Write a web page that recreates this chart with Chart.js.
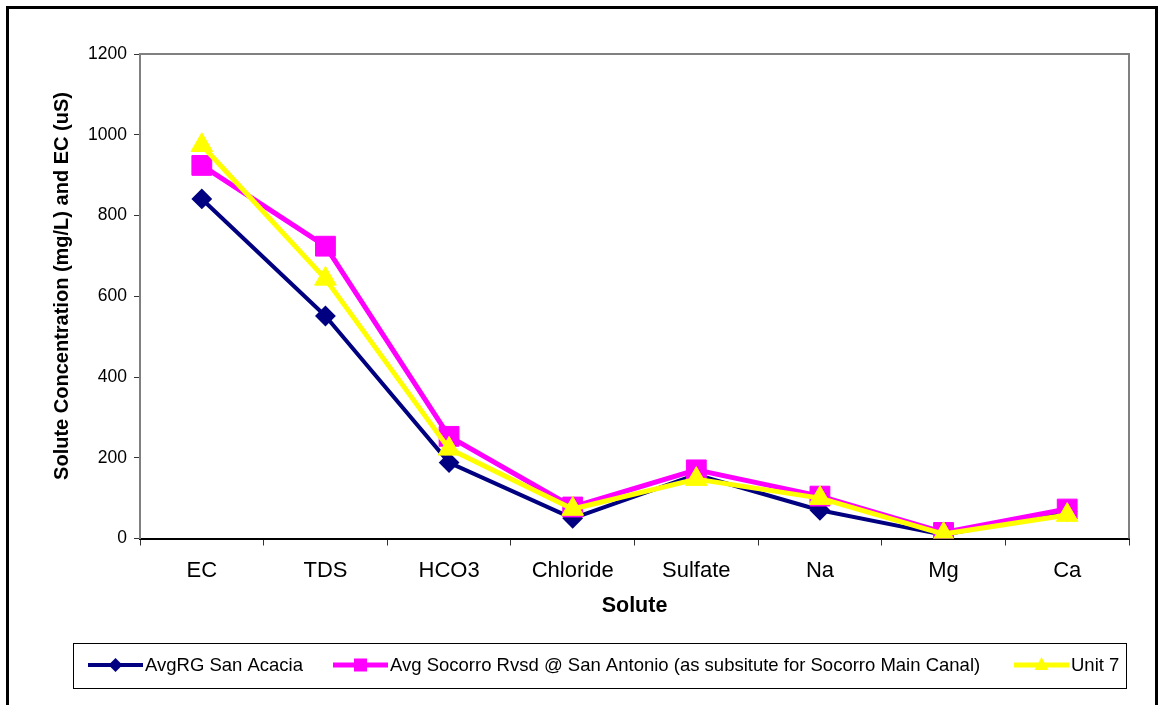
<!DOCTYPE html>
<html>
<head>
<meta charset="utf-8">
<script src="https://cdn.jsdelivr.net/npm/chart.js@4/dist/chart.umd.min.js"></script>
<style>
  html, body { margin: 0; padding: 0; background: #ffffff; }
  #wrap { width: 1160px; height: 705px; position: relative; }
  canvas { display: block; }
</style>
</head>
<body>
<div id="wrap"><canvas id="c" width="1160" height="705"></canvas></div>
<script>
// Solute categories and average concentrations (mg/L; EC in uS)
const categories = ['EC', 'TDS', 'HCO3', 'Chloride', 'Sulfate', 'Na', 'Mg', 'Ca'];
const sanAcacia = [841, 551, 188, 50, 158, 70, 9, 67];
const socorro = [924, 724, 253, 78, 170, 105, 15, 73];
const unit7 = [974, 643, 222, 73, 147, 100, 11, 58];
const seriesNames = [
  'AvgRG San Acacia',
  'Avg Socorro Rvsd @ San Antonio (as subsitute for Socorro Main Canal)',
  'Unit 7'
];
const yTicks = [0, 200, 400, 600, 800, 1000, 1200];
const yTitle = 'Solute Concentration (mg/L) and EC (uS)';

const FONT = '"Liberation Sans", Arial, Helvetica, sans-serif';

// outer frame, plot frame, vertical axis title and legend box
const framePlugin = {
  id: 'frames',
  beforeDraw(chart) {
    const ctx = chart.ctx;
    ctx.save();
    ctx.fillStyle = '#ffffff';
    ctx.fillRect(0, 0, chart.width, chart.height);
    ctx.strokeStyle = '#000000';
    ctx.lineWidth = 3;
    ctx.strokeRect(7.5, 7.5, 1149, 720);
    ctx.restore();
  },
  beforeDatasetsDraw(chart) {
    const {ctx, chartArea: a} = chart;
    ctx.save();
    ctx.strokeStyle = '#808080';
    ctx.lineWidth = 2;
    ctx.beginPath();
    ctx.moveTo(a.left, a.top);
    ctx.lineTo(a.right, a.top);
    ctx.lineTo(a.right, a.bottom);
    ctx.stroke();
    ctx.restore();
  },
  afterDraw(chart) {
    const ctx = chart.ctx;
    ctx.save();
    // vertical axis title
    ctx.translate(62, 286);
    ctx.rotate(-Math.PI / 2);
    ctx.fillStyle = '#000000';
    ctx.font = 'bold 20px ' + FONT;
    ctx.textAlign = 'center';
    ctx.textBaseline = 'middle';
    ctx.fillText(yTitle, 0, 0);
    ctx.restore();

    ctx.save();
    ctx.strokeStyle = '#000000';
    ctx.lineWidth = 1;
    ctx.strokeRect(73.5, 643.5, 1053, 45);
    const starts = [88, 333, 1014];
    const cy = 665;
    chart.data.datasets.forEach((ds, i) => {
      const x0 = starts[i];
      const x1 = x0 + 55;
      ctx.strokeStyle = ds.borderColor;
      ctx.lineWidth = ds.borderWidth;
      ctx.beginPath();
      ctx.moveTo(x0, cy);
      ctx.lineTo(x1, cy);
      ctx.stroke();
      const mx = (x0 + x1) / 2;
      ctx.fillStyle = ds.pointBackgroundColor;
      ctx.beginPath();
      if (ds.pointStyle === 'rectRot') {
        const r = 7;
        ctx.moveTo(mx - r, cy); ctx.lineTo(mx, cy - r); ctx.lineTo(mx + r, cy); ctx.lineTo(mx, cy + r);
      } else if (ds.pointStyle === 'rect') {
        ctx.rect(mx - 6.5, cy - 6.5, 13, 13);
      } else {
        ctx.moveTo(mx, cy - 8); ctx.lineTo(mx + 7, cy + 5); ctx.lineTo(mx - 7, cy + 5);
      }
      ctx.closePath();
      ctx.fill();
      ctx.fillStyle = '#000000';
      ctx.font = '18.5px ' + FONT;
      ctx.textBaseline = 'middle';
      ctx.textAlign = 'left';
      ctx.fillText(ds.label, x1 + 2, cy + 1);
    });
    ctx.restore();
  }
};

new Chart(document.getElementById('c'), {
  type: 'line',
  data: {
    labels: categories,
    datasets: [
      {
        label: seriesNames[0], data: sanAcacia, order: 2,
        borderColor: '#000080', backgroundColor: '#000080',
        pointBackgroundColor: '#000080', pointBorderColor: '#000080',
        borderWidth: 4, pointStyle: 'rectRot', pointRadius: 9, pointBorderWidth: 2
      },
      {
        label: seriesNames[1], data: socorro, order: 1,
        borderColor: '#ff00ff', backgroundColor: '#ff00ff',
        pointBackgroundColor: '#ff00ff', pointBorderColor: '#ff00ff',
        borderWidth: 5, pointStyle: 'rect', pointRadius: 14, pointBorderWidth: 1
      },
      {
        label: seriesNames[2], data: unit7, order: 0,
        borderColor: '#ffff00', backgroundColor: '#ffff00',
        pointBackgroundColor: '#ffff00', pointBorderColor: '#ffff00',
        borderWidth: 5, pointStyle: 'triangle', pointRadius: 12.5, pointBorderWidth: 1
      }
    ]
  },
  options: {
    responsive: false,
    animation: false,
    events: [],
    layout: { padding: { left: 0, right: 31, top: 54, bottom: 0 } },
    elements: { line: { tension: 0, borderCapStyle: 'round', borderJoinStyle: 'round' } },
    plugins: { legend: { display: false }, tooltip: { enabled: false } },
    scales: {
      x: {
        type: 'category',
        offset: true,
        afterFit(s) { s.height = 166.5; },
        grid: { offset: true, drawOnChartArea: false, drawTicks: true, tickLength: 7, color: '#333333', lineWidth: 1 },
        border: { display: true, color: '#000000', width: 2 },
        ticks: { color: '#000000', font: { family: FONT, size: 22 }, padding: 12, maxRotation: 0, autoSkip: false },
        title: { display: true, text: 'Solute', color: '#000000', font: { family: FONT, size: 21.5, weight: 'bold' }, padding: { top: 0, bottom: 86 } }
      },
      y: {
        min: 0, max: 1200,
        afterFit(s) { s.width = 140; },
        afterBuildTicks(s) { s.ticks = yTicks.map(v => ({ value: v })); },
        grid: { drawOnChartArea: false, drawTicks: true, tickLength: 6, color: '#333333', lineWidth: 1 },
        border: { display: true, color: '#808080', width: 2 },
        ticks: { color: '#000000', font: { family: FONT, size: 17.5 }, padding: 7, callback: v => String(v) },
        title: { display: false }
      }
    }
  },
  plugins: [framePlugin]
});
</script>
</body>
</html>
